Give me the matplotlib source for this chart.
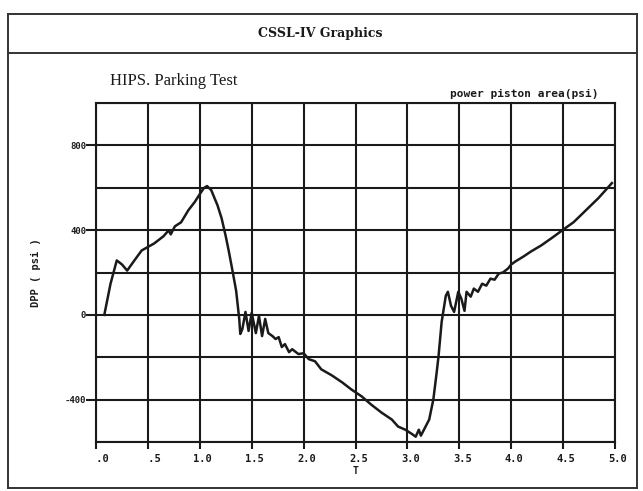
import matplotlib
matplotlib.use("Agg")
import matplotlib.pyplot as plt
from matplotlib.lines import Line2D
from matplotlib.ticker import MultipleLocator, FixedLocator
import matplotlib.transforms as mtransforms

# ---- data ----
t = [0.08, 0.14, 0.20, 0.25, 0.30, 0.37, 0.44, 0.56, 0.65, 0.70, 0.72, 0.76, 0.82, 0.89,
     0.95, 1.00, 1.04, 1.07, 1.11, 1.13, 1.17, 1.21, 1.25, 1.28, 1.32, 1.35, 1.38, 1.39,
     1.41, 1.44, 1.47, 1.50, 1.54, 1.57, 1.60, 1.63, 1.66, 1.70, 1.73, 1.76, 1.79, 1.82,
     1.86, 1.89, 1.95, 2.00, 2.05, 2.11, 2.17, 2.27, 2.37, 2.46, 2.56, 2.65, 2.75, 2.85,
     2.91, 2.98, 3.04, 3.08, 3.11, 3.13, 3.17, 3.21, 3.25, 3.28, 3.30, 3.33, 3.37, 3.39,
     3.42, 3.45, 3.49, 3.52, 3.55, 3.57, 3.61, 3.64, 3.68, 3.72, 3.76, 3.80, 3.84, 3.88,
     3.92, 3.97, 4.00, 4.04, 4.12, 4.19, 4.29, 4.40, 4.52, 4.60, 4.67, 4.76, 4.84, 4.91, 4.97]
dpp = [0, 147, 257, 238, 209, 257, 304, 337, 371, 399, 380, 418, 437, 494,
       532, 570, 599, 608, 589, 565, 518, 456, 371, 299, 195, 114, -19, -90,
       -67, 14, -76, 10, -86, -5, -100, -19, -86, -100, -114, -105, -152, -138,
       -176, -162, -185, -181, -209, -219, -257, -285, -318, -352, -385, -423, -461, -494,
       -527, -542, -561, -575, -542, -570, -532, -494, -399, -280, -195, -33, 90, 109,
       43, 14, 109, 76, 19, 109, 86, 124, 109, 147, 138, 171, 166, 195,
       200, 219, 238, 252, 276, 299, 328, 366, 409, 437, 470, 513, 551, 589, 622]

x_ticks = [0.0, 0.5, 1.0, 1.5, 2.0, 2.5, 3.0, 3.5, 4.0, 4.5, 5.0]
x_tick_labels = [" .0", " .5", "1.0", "1.5", "2.0", "2.5", "3.0", "3.5", "4.0", "4.5", "5.0"]
y_ticks = [-400, 0, 400, 800]
y_tick_labels = ["-400", "0", "400", "800"]

header_title = "CSSL-IV Graphics"
chart_title = "HIPS. Parking Test"
series_label = "power piston area(psi)"

W, H = 643, 491
fig = plt.figure(figsize=(W / 100, H / 100), dpi=100)
fig.patch.set_facecolor("white")

def fx(px):
    return px / W

def fy(py):
    return 1 - py / H

L, R, T, B = 96, 615, 103, 442
ax = fig.add_axes([fx(L), fy(B), fx(R) - fx(L), fy(T) - fy(B)])

ink = "#1a1a1a"
lw_grid = 1.5

ax.plot(t, dpp, color=ink, linewidth=1.8, solid_joinstyle="round", zorder=3)

ax.set_xlim(0, 5)
ax.set_ylim(-600, 1000)

ax.xaxis.set_major_locator(FixedLocator(x_ticks))
ax.set_xticklabels(x_tick_labels)
ax.yaxis.set_major_locator(FixedLocator(y_ticks))
ax.set_yticklabels(y_tick_labels)
ax.yaxis.set_minor_locator(MultipleLocator(200))

ax.grid(True, which="major", axis="x", color=ink, linewidth=lw_grid)
ax.grid(True, which="both", axis="y", color=ink, linewidth=lw_grid)
ax.set_axisbelow(True)

for s in ax.spines.values():
    s.set_color(ink)
    s.set_linewidth(lw_grid)

ax.tick_params(axis="x", which="major", direction="out", length=5, width=lw_grid,
               color=ink, pad=4)
ax.tick_params(axis="y", which="major", direction="out", length=7, width=lw_grid,
               color=ink, pad=0)
ax.tick_params(axis="y", which="minor", length=0)

for lab in ax.get_xticklabels():
    lab.set_fontfamily("DejaVu Sans Mono")
    lab.set_fontweight("bold")
    lab.set_fontsize(7.5)
    lab.set_color(ink)
    lab.set_transform(lab.get_transform() +
                      mtransforms.ScaledTranslation(3 / 100, 0, fig.dpi_scale_trans))
for lab in ax.get_yticklabels():
    lab.set_fontfamily("DejaVu Sans Mono")
    lab.set_fontweight("bold")
    lab.set_fontsize(6.5)
    lab.set_color(ink)

ax.set_xlabel("T", fontsize=7, fontweight="bold", fontfamily="DejaVu Sans Mono",
              color=ink, labelpad=1)
ax.set_ylabel("DPP ( psi )", fontsize=7.5, fontweight="bold",
              fontfamily="DejaVu Sans Mono", color=ink, labelpad=17)

# outer frame and header band
frame_kw = dict(color="#333333", linewidth=1.4, transform=fig.transFigure)
fl, fr, ft, fb, fh = 8, 637, 14, 488, 53
fig.add_artist(Line2D([fx(fl), fx(fr)], [fy(ft), fy(ft)], **frame_kw))
fig.add_artist(Line2D([fx(fl), fx(fr)], [fy(fh), fy(fh)], **frame_kw))
fig.add_artist(Line2D([fx(fl), fx(fr)], [fy(fb), fy(fb)], **frame_kw))
fig.add_artist(Line2D([fx(fl), fx(fl)], [fy(ft), fy(fb)], **frame_kw))
fig.add_artist(Line2D([fx(fr), fx(fr)], [fy(ft), fy(fb)], **frame_kw))

fig.text(fx(320), fy(33), header_title, ha="center", va="center",
         fontsize=9, fontweight="bold", fontfamily="DejaVu Serif", color=ink)
fig.text(fx(110), fy(81), chart_title, ha="left", va="center",
         fontsize=12, fontfamily="Liberation Serif", color=ink)
fig.text(fx(598), fy(94), series_label, ha="right", va="center",
         fontsize=8, fontweight="bold", fontfamily="DejaVu Sans Mono", color=ink)

fig.savefig("out.png", dpi=100, facecolor="white")
